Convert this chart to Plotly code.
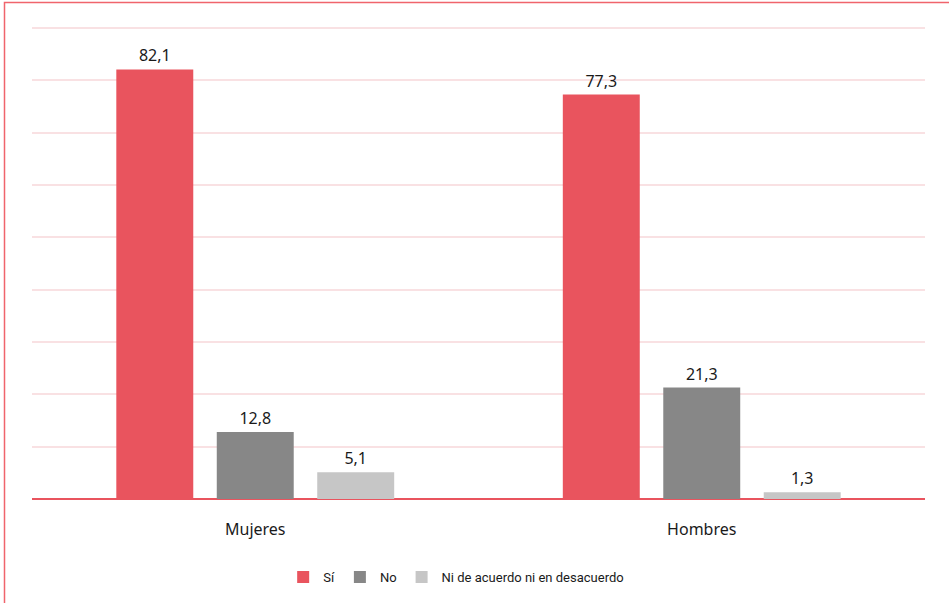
import plotly.graph_objects as go

categories = ["Mujeres", "Hombres"]
si_values = [82.1, 77.3]
no_values = [12.8, 21.3]
ni_values = [5.1, 1.3]
series_names = ["Sí", "No", "Ni de acuerdo ni en desacuerdo"]
colors = ["#E9545E", "#878787", "#C6C6C6"]

fig = go.Figure()
for name, vals, col in zip(series_names, [si_values, no_values, ni_values], colors):
    fig.add_trace(go.Bar(
        x=categories, y=vals, name=name, marker_color=col,
        marker_line_width=0,
        texttemplate="%{y:.1f}", textposition="outside",
        textfont=dict(size=16, color="#1a1a1a", family="Noto Sans"),
        cliponaxis=False,
    ))

fig.update_layout(
    width=949, height=603,
    margin=dict(l=32, r=24, t=27, b=103),
    paper_bgcolor="white", plot_bgcolor="white",
    barmode="group", bargap=0.325, bargroupgap=0.234,
    separators=", ",
    font=dict(family="Noto Sans", color="#1a1a1a"),
    showlegend=True,
    legend=dict(orientation="h", x=0.475, xanchor="center", y=-0.163, yanchor="middle",
                font=dict(size=13, family="Roboto", color="#1a1a1a"),
                itemwidth=30, traceorder="normal"),
    xaxis=dict(showgrid=False, showline=False, ticks="", tickfont=dict(size=16),
               ticklabelstandoff=19),
    yaxis=dict(range=[0, 90.2], tickvals=[10, 20, 30, 40, 50, 60, 70, 80, 90],
               showticklabels=False, showgrid=True,
               gridcolor="#F9E1E3", gridwidth=1.5, zeroline=True,
               zerolinecolor="#E9545E", zerolinewidth=2, showline=False),
    shapes=[dict(type="rect", xref="paper", yref="paper",
                 x0=(4.5 - 32) / 893, x1=1.2, y0=-0.4, y1=(500 - 2.5) / 473,
                 line=dict(color="#F0646C", width=1.5), fillcolor="rgba(0,0,0,0)",
                 layer="below")],
)

fig.write_html("out.html", config={"displayModeBar": False},
               post_script="document.body.style.margin='0';document.body.style.overflow='hidden';")
